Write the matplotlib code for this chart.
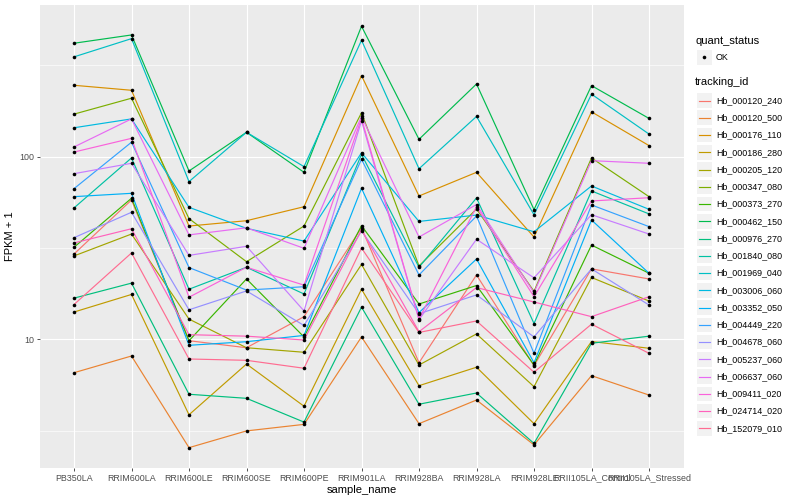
import matplotlib
matplotlib.use("Agg")
import matplotlib.pyplot as plt
from matplotlib.lines import Line2D
from matplotlib.patches import Rectangle
from matplotlib.ticker import FixedLocator, NullFormatter

plt.rcParams['font.family'] = ['Liberation Sans', 'DejaVu Sans']

samples = ["PB350LA", "RRIM600LA", "RRIM600LE", "RRIM600SE", "RRIM600PE",
           "RRIM901LA", "RRIM928BA", "RRIM928LA", "RRIM928LE",
           "RRII105LA_Control", "RRII105LA_Stressed"]

tracking_ids = ["Hb_000120_240", "Hb_000120_500", "Hb_000176_110", "Hb_000186_280",
                "Hb_000205_120", "Hb_000347_080", "Hb_000373_270", "Hb_000462_150",
                "Hb_000976_270", "Hb_001840_080", "Hb_001969_040", "Hb_003006_060",
                "Hb_003352_050", "Hb_004449_220", "Hb_004678_060", "Hb_005237_060",
                "Hb_006637_060", "Hb_009411_020", "Hb_024714_020", "Hb_152079_010"]

colors = ["#F8766D", "#EA8331", "#D89000", "#C09B00", "#A3A500", "#7CAE00", "#39B600",
          "#00BB4E", "#00BF7D", "#00C1A3", "#00BFC4", "#00BAE0", "#00B0F6", "#35A2FF",
          "#9590FF", "#C77CFF", "#E76BF3", "#FA62DB", "#FF62BC", "#FF6C91"]

# FPKM + 1 per gene, in sample order
hb_000120_240 = [29.3, 57.9, 9.82, 8.99, 13.3, 40.8, 7.44, 22.5, 7.17, 24.3, 21.4]
hb_000120_500 = [6.56, 8.10, 2.55, 3.15, 3.42, 10.3, 3.45, 4.65, 2.64, 6.32, 4.95]
hb_000176_110 = [246, 231, 41.7, 44.6, 53.2, 278, 60.9, 82.1, 36.3, 176, 115]
hb_000186_280 = [14.1, 17.6, 3.86, 7.32, 4.30, 18.8, 5.57, 7.03, 3.45, 9.72, 8.93]
hb_000205_120 = [28.6, 37.7, 12.9, 8.99, 8.49, 25.7, 7.23, 10.7, 5.50, 21.8, 16.2]
hb_000347_080 = [171, 209, 45.8, 26.6, 41.7, 174, 25.2, 51.7, 18.3, 98.4, 60.4]
hb_000373_270 = [31.9, 59.2, 9.82, 21.4, 10.3, 41.9, 15.6, 19.7, 7.23, 32.8, 23.0]
hb_000462_150 = [418, 464, 83.5, 136, 82.1, 518, 124.5, 250, 51.3, 245, 162]
hb_000976_270 = [16.8, 20.3, 5.0, 4.75, 3.52, 15.0, 4.41, 5.08, 2.69, 9.51, 10.4]
hb_001840_080 = [52.4, 98.4, 18.8, 24.8, 17.7, 103, 24.8, 59.4, 12.2, 64.9, 48.6]
hb_001969_040 = [352, 443, 73.0, 136, 88.2, 434, 85.9, 166, 48.1, 220, 133]
hb_003006_060 = [144, 161, 52.8, 40.5, 34.5, 105, 44.2, 47.9, 38.8, 69.1, 51.5]
hb_003352_050 = [60.4, 63.0, 9.27, 9.70, 10.5, 67.1, 14.0, 27.5, 7.44, 45.0, 23.0]
hb_004449_220 = [66.8, 120, 24.7, 18.6, 19.4, 96.8, 22.5, 47.3, 8.38, 54.4, 41.4]
hb_004678_060 = [36.0, 49.6, 14.5, 18.4, 11.9, 39.2, 13.8, 17.5, 10.3, 24.3, 15.4]
hb_005237_060 = [80.7, 92.0, 28.8, 32.3, 14.3, 157, 12.8, 35.3, 21.7, 48.1, 37.7]
hb_006637_060 = [113, 161, 37.3, 40.8, 31.5, 166, 36.3, 54.7, 18.0, 95.1, 92.0]
hb_009411_020 = [106, 126, 17.0, 24.8, 19.8, 162, 12.9, 53.2, 17.1, 57.2, 59.6]
hb_024714_020 = [33.7, 40.3, 10.6, 10.4, 9.91, 39.7, 11.0, 19.2, 16.0, 13.3, 17.1]
hb_152079_010 = [15.5, 29.7, 7.80, 7.67, 6.94, 31.6, 10.9, 12.6, 6.60, 12.1, 8.38]

series = [hb_000120_240, hb_000120_500, hb_000176_110, hb_000186_280, hb_000205_120,
          hb_000347_080, hb_000373_270, hb_000462_150, hb_000976_270, hb_001840_080,
          hb_001969_040, hb_003006_060, hb_003352_050, hb_004449_220, hb_004678_060,
          hb_005237_060, hb_006637_060, hb_009411_020, hb_024714_020, hb_152079_010]

W, H = 800, 500
fig = plt.figure(figsize=(8, 5), dpi=100)
fig.patch.set_facecolor("white")

left_px, right_px, top_px, bottom_px = 39.5, 683.5, 5, 468
ax = fig.add_axes([left_px / W, 1 - bottom_px / H, (right_px - left_px) / W, (bottom_px - top_px) / H])
ax.set_facecolor("#EBEBEB")
for s in ax.spines.values():
    s.set_visible(False)

xs = list(range(len(samples)))
for vals, col in zip(series, colors):
    ax.plot(xs, vals, color=col, lw=0.85, zorder=3, solid_capstyle="butt")
for vals in series:
    ax.plot(xs, vals, linestyle="none", marker="o", ms=2.6, mfc="black", mec="black",
            mew=0, zorder=4)

ax.set_yscale("log")
ax.set_ylim(1.973, 677)
ax.set_xlim(-0.6, len(samples) - 1 + 0.6)
ax.yaxis.set_major_locator(FixedLocator([10, 100]))
ax.yaxis.set_minor_locator(FixedLocator([10 ** 0.5, 10 ** 1.5, 10 ** 2.5]))
ax.yaxis.set_minor_formatter(NullFormatter())
ax.set_yticklabels(["10", "100"])
ax.set_xticks(xs)
ax.set_xticklabels(samples)

ax.grid(which="major", color="white", lw=0.85, zorder=0)
ax.grid(which="minor", axis="y", color="white", lw=0.45, zorder=0)
ax.set_axisbelow(True)
ax.tick_params(which="major", length=2.5, width=0.6, color="#333333",
               labelsize=6.4, labelcolor="#4D4D4D", pad=1.5)
ax.tick_params(which="minor", length=0)

ax.set_xlabel("sample_name", fontsize=8, color="black", labelpad=1.5)
ax.set_ylabel("FPKM + 1", fontsize=8, color="black", labelpad=3)

# Legend (drawn manually, ggplot style)
def fx(px):
    return px / W

def fy(py):
    return 1 - py / H

fig.text(fx(695), fy(40.5), "quant_status", fontsize=8, va="center", ha="left")
key = 14.5
fig.patches.append(Rectangle((fx(697), fy(57.3 + key / 2)), key / W, key / H,
                             transform=fig.transFigure, facecolor="#F2F2F2",
                             edgecolor="none"))
fig.add_artist(Line2D([fx(704.2)], [fy(57.3)], marker="o", ms=2.6, mfc="black",
                      mec="black", mew=0, transform=fig.transFigure))
fig.text(fx(716), fy(57.3), "OK", fontsize=6.4, va="center", ha="left")

fig.text(fx(695), fy(82), "tracking_id", fontsize=8, va="center", ha="left")
y0, dy = 100.5, 17.25
for i, (tid, col) in enumerate(zip(tracking_ids, colors)):
    yc = y0 + i * dy
    fig.patches.append(Rectangle((fx(697), fy(yc + key / 2)), key / W, key / H,
                                 transform=fig.transFigure, facecolor="#F2F2F2",
                                 edgecolor="none"))
    fig.add_artist(Line2D([fx(698.5), fx(710)], [fy(yc), fy(yc)], color=col, lw=0.85,
                          transform=fig.transFigure))
    fig.text(fx(716), fy(yc), tid, fontsize=6.4, va="center", ha="left")

fig.savefig("out.png", dpi=100)
